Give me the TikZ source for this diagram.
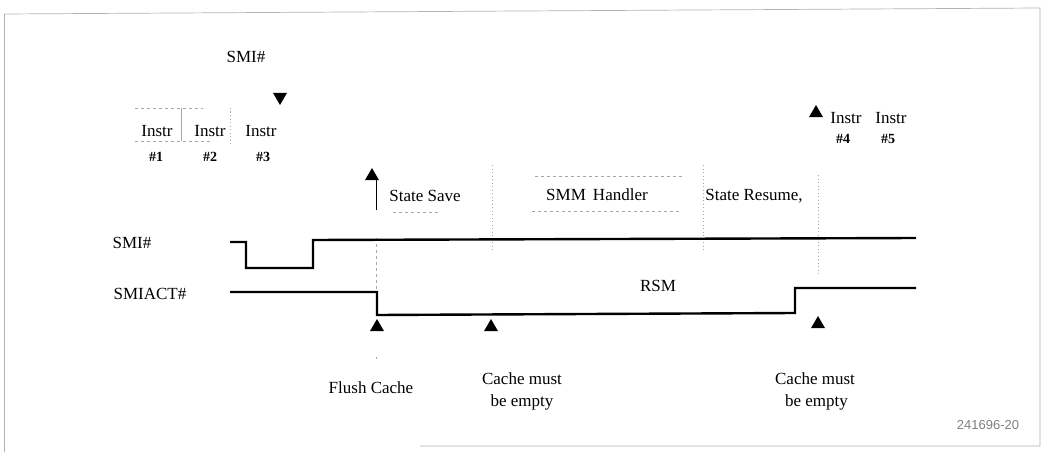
\documentclass[tikz,border=0pt]{standalone}
\usepackage{fontspec}
\setmainfont{Liberation Serif}
\newfontfamily\labsans{Liberation Sans}
\usetikzlibrary{shapes.geometric}
\begin{document}
\begin{tikzpicture}[x=1pt,y=-1pt,
  txt/.style={font=\fontsize{17}{22}\selectfont, inner sep=0pt, anchor=center},
  num/.style={font=\bfseries\fontsize{14}{16}\selectfont, inner sep=0pt},
  sig/.style={line width=2.4pt, line join=miter},
  faint/.style={gray!70, line width=0.6pt, dash pattern=on 3pt off 3pt},
  faintd/.style={gray!70, line width=0.6pt, dash pattern=on 1pt off 2.5pt},
  frame/.style={gray!60, line width=0.7pt},
  uptri/.style={regular polygon, regular polygon sides=3, fill=black, draw=none, minimum size=16pt, inner sep=0pt},
  dntri/.style={uptri, shape border rotate=180}]
\useasboundingbox (0,0) rectangle (1045,452);
% frame
\draw[frame] (4,14) -- (1040,8) -- (1040,446) -- (420,446);
\draw[frame] (4,14) -- (4,452);
% top SMI# and instructions
\node[txt] (smitop) at (246,57) {SMI\#};
\node[dntri] (dn) at (280,97) {};
\node[txt] (i1) at (157,131) {Instr};
\node[txt] (i2) at (210,131) {Instr};
\node[txt] (i3) at (261,131) {Instr};
\node[num] (n1) at (156,157) {\#1};
\node[num] (n2) at (210,157) {\#2};
\node[num] (n3) at (263,157) {\#3};
\draw[faint] (135,108) -- (203,108);
\draw[faint] (135,141) -- (213,141);
\draw[gray!70, line width=0.6pt] (181,108) -- (181,141);
\draw[faintd] (230,108) -- (230,146);
% phase labels
\node[txt] (ss) at (425,196) {State Save};
\node[txt] (smm) at (597,195) {SMM\, Handler};
\node[txt] (sr) at (754,196) {State Resume,};
\draw[faint] (393,212) -- (440,212);
\draw[faint] (532,211) -- (680,211);
\draw[faint] (535,176) -- (685,176);
\draw[faintd] (492,165) -- (492,252);
\draw[faintd] (703,165) -- (703,252);
\draw[faintd] (818,175) -- (818,275);
% top-right instructions
\node[uptri] (ua2) at (816,113) {};
\node[txt] (i4) at (846,118) {Instr};
\node[txt] (i5) at (891,118) {Instr};
\node[num] (n4) at (843,139) {\#4};
\node[num] (n5) at (888,139) {\#5};
% flush arrow with stem
\node[uptri] (ua1) at (372,176) {};
\coordinate (stemtop) at (376,180);
\coordinate (stembot) at (376,210);
\coordinate (dashtop) at (376,238);
\coordinate (dashbot) at (376,292);
\draw[line width=0.9pt] (stemtop) -- (stembot);
\draw[faint] (dashtop) -- (dashbot);
% signal labels
\node[txt] (lsmi) at (132,243) {SMI\#};
\node[txt] (lact) at (150,294) {SMIACT\#};
% waveforms
\draw[sig] (230,242) -- (246,242) -- (246,268) -- (313,268) -- (313,240) -- (916,238);
\draw[sig] (230,292) -- (377,292) -- (377,315) -- (795,313) -- (795,288) -- (916,288);
\node[txt] (rsm) at (658,286) {RSM};
% bottom arrows
\node[uptri] (b1) at (377,327) {};
\node[uptri] (b2) at (491,327) {};
\node[uptri] (b3) at (818,324) {};
\draw[gray!70, line width=0.6pt] (376,357) -- (376,359);
% bottom texts
\node[txt] (fc) at (371,388) {Flush Cache};
\node[txt, align=center] (cm1) at (522,391) {Cache must\\be empty};
\node[txt, align=center] (cm2) at (815,391) {Cache must\\\,be empty};
\node[font=\labsans\fontsize{13}{15}\selectfont, text=gray, inner sep=0pt] (id) at (988,425) {241696-20};
\end{tikzpicture}
\end{document}
